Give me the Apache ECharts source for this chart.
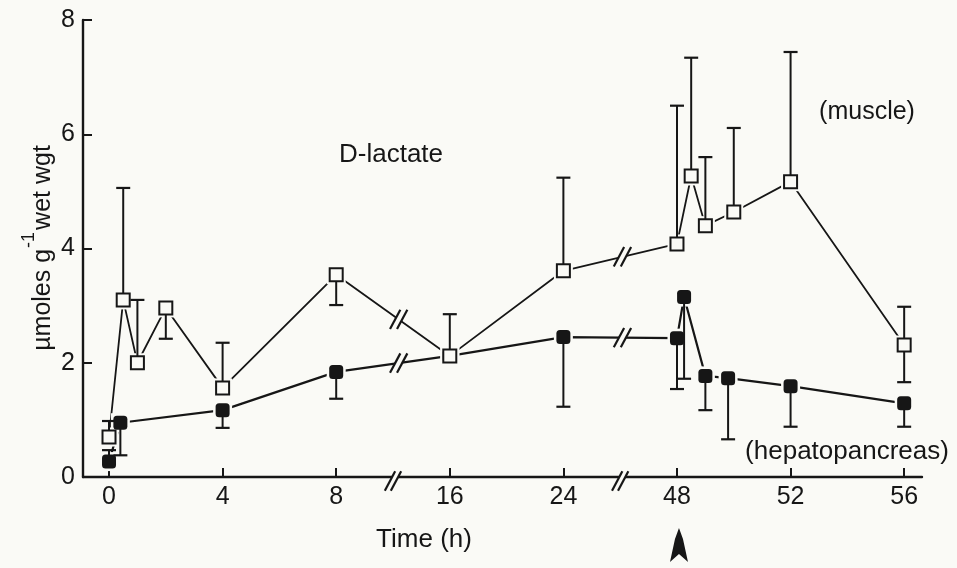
<!DOCTYPE html>
<html>
<head>
<meta charset="utf-8">
<title>D-lactate</title>
<script src="https://cdn.jsdelivr.net/npm/echarts@6/dist/echarts.min.js"></script>
<style>
  html, body { margin: 0; padding: 0; background: #fafaf6; }
  #chart { width: 957px; height: 568px; }
</style>
</head>
<body>
<div id="chart"></div>
<script>
// Tick labels of the broken time axis (hours)
const hourTicks = [0, 4, 8, 16, 24, 48, 52, 56];

// Muscle: mean and error-bar ends (µmoles g-1 wet wgt)
const muscleHours = [0, 0.5, 1, 2, 4, 8, 16, 24, 48, 48.5, 49, 50, 52, 56];
const muscleMean  = [0.70, 3.10, 2.00, 2.96, 1.56, 3.54, 2.12, 3.61, 4.08, 5.27, 4.40, 4.64, 5.17, 2.31];
const muscleUpper = [0.98, 5.06, 3.10, null, 2.35, null, 2.85, 5.24, 6.50, 7.34, 5.60, 6.11, 7.44, 2.98];
const muscleLower = [null, null, null, 2.42, null, 3.01, null, null, null, null, null, null, null, 1.66];

// Hepatopancreas: mean and error-bar ends
const hepHours = [0, 0.4, 4, 8, 16, 24, 48, 48.25, 49, 49.8, 52, 56];
const hepMean  = [0.27, 0.95, 1.17, 1.84, 2.12, 2.45, 2.43, 3.15, 1.77, 1.73, 1.59, 1.29];
const hepUpper = [0.47, null, null, null, null, null, null, null, null, null, null, null];
const hepLower = [null, 0.38, 0.86, 1.37, null, 1.23, 1.54, 1.72, 1.17, 0.66, 0.88, 0.88];

const BG = '#fafaf6';
const INK = '#161616';
const FONT = "'Liberation Sans', Arial, sans-serif";

// The time axis is drawn in three linear pieces: 0-8 h, 16-24 h, 48-56 h.
// Each piece maps to its own stretch of a continuous axis coordinate.
const pieces = [[0, 8, 0, 2], [16, 24, 3, 4], [48, 56, 5, 7]];
function toPos(h) {
  for (const [h0, h1, p0, p1] of pieces) {
    if (h >= h0 && h <= h1) return p0 + (h - h0) / (h1 - h0) * (p1 - p0);
  }
  return NaN;
}
const tickPos = hourTicks.map(toPos);
const labelOf = {};
tickPos.forEach((p, i) => { labelOf[p] = String(hourTicks[i]); });

const musclePts = muscleHours.map((h, i) => [toPos(h), muscleMean[i]]);
const hepPts = hepHours.map((h, i) => [toPos(h), hepMean[i]]);

function errorItems(hours, mean, upper, lower) {
  const out = [];
  hours.forEach((h, i) => {
    if (upper[i] != null) out.push([toPos(h), mean[i], upper[i]]);
    if (lower[i] != null) out.push([toPos(h), mean[i], lower[i]]);
  });
  return out;
}
const errData = errorItems(muscleHours, muscleMean, muscleUpper, muscleLower)
  .concat(errorItems(hepHours, hepMean, hepUpper, hepLower));

// Break marks sit between the axis pieces; on each curve the mark goes on
// the segment that spans the break.
const lineBreaks = [2.55, 4.52];
const axisBreaks = [2.5, 4.5];
function breakItems(pts) {
  const out = [];
  lineBreaks.forEach(b => {
    for (let i = 0; i < pts.length - 1; i++) {
      if (pts[i][0] < b && pts[i + 1][0] > b) {
        out.push([b, pts[i][0], pts[i][1], pts[i + 1][0], pts[i + 1][1]]);
      }
    }
  });
  return out;
}
const lineBreakData = breakItems(musclePts).concat(breakItems(hepPts));

// Two slanted strokes with the gap between them blanked out
function slashPair(cx, cy, half, gap) {
  const ang = 62 * Math.PI / 180;
  const dx = Math.cos(ang) * half, dy = Math.sin(ang) * half;
  const a = cx - gap / 2, b = cx + gap / 2;
  return [
    { type: 'polygon', shape: { points: [[a - dx, cy + dy], [a + dx, cy - dy], [b + dx, cy - dy], [b - dx, cy + dy]] },
      style: { fill: BG } },
    { type: 'line', shape: { x1: a - dx, y1: cy + dy, x2: a + dx, y2: cy - dy }, style: { stroke: INK, lineWidth: 2.2 } },
    { type: 'line', shape: { x1: b - dx, y1: cy + dy, x2: b + dx, y2: cy - dy }, style: { stroke: INK, lineWidth: 2.2 } }
  ];
}

const chart = echarts.init(document.getElementById('chart'));

chart.setOption({
  backgroundColor: BG,
  animation: false,
  grid: { left: 83, right: 35, top: 20, bottom: 91, outerBoundsMode: 'none' },
  xAxis: {
    type: 'value',
    min: -0.229,
    max: 7.157,
    splitLine: { show: false },
    axisLine: { onZero: false, lineStyle: { color: INK, width: 2.4 } },
    axisTick: { inside: true, length: 9, customValues: tickPos, lineStyle: { color: INK, width: 2 } },
    axisLabel: {
      customValues: tickPos,
      formatter: v => labelOf[v] || '',
      color: INK, fontSize: 25, fontFamily: FONT, margin: 8
    }
  },
  yAxis: {
    type: 'value',
    min: 0, max: 8, interval: 2,
    splitLine: { show: false },
    axisLine: { show: true, onZero: false, lineStyle: { color: INK, width: 2.4 } },
    axisTick: { show: true, inside: true, length: 9, lineStyle: { color: INK, width: 2 } },
    axisLabel: { color: INK, fontSize: 25, fontFamily: FONT, margin: 8 }
  },
  series: [
    {
      name: 'muscle', type: 'line', data: musclePts, showSymbol: false, z: 2,
      lineStyle: { color: INK, width: 1.8 }
    },
    {
      name: 'hepatopancreas', type: 'line', data: hepPts, showSymbol: false, z: 2,
      lineStyle: { color: INK, width: 2.2 }
    },
    {
      // clearance round each marker so the joining lines stop short of it
      type: 'scatter', data: musclePts.concat(hepPts), symbol: 'rect', symbolSize: 19,
      itemStyle: { color: BG, opacity: 1 }, z: 3, silent: true
    },
    {
      type: 'custom', data: lineBreakData, z: 4, silent: true,
      renderItem: (params, api) => {
        const b = api.value(0);
        const pA = api.coord([api.value(1), api.value(2)]);
        const pB = api.coord([api.value(3), api.value(4)]);
        const xb = api.coord([b, 0])[0];
        const t = (xb - pA[0]) / (pB[0] - pA[0]);
        const yb = pA[1] + t * (pB[1] - pA[1]);
        return { type: 'group', children: slashPair(xb, yb, 11, 7) };
      }
    },
    {
      type: 'custom', data: errData, z: 5, silent: true,
      renderItem: (params, api) => {
        const p1 = api.coord([api.value(0), api.value(1)]);
        const p2 = api.coord([api.value(0), api.value(2)]);
        return {
          type: 'group',
          children: [
            { type: 'line', shape: { x1: p1[0], y1: p1[1], x2: p2[0], y2: p2[1] }, style: { stroke: INK, lineWidth: 2 } },
            { type: 'line', shape: { x1: p2[0] - 7, y1: p2[1], x2: p2[0] + 7, y2: p2[1] }, style: { stroke: INK, lineWidth: 2.2 } }
          ]
        };
      }
    },
    {
      name: 'hepatopancreas', type: 'scatter', data: hepPts, symbol: 'roundRect', symbolSize: 14, z: 6,
      itemStyle: { color: INK, opacity: 1 }
    },
    {
      name: 'muscle', type: 'scatter', data: musclePts, symbol: 'rect', symbolSize: 13, z: 7,
      itemStyle: { color: BG, borderColor: INK, borderWidth: 2, opacity: 1 }
    },
    {
      // break marks across the time axis
      type: 'custom', data: axisBreaks.map(b => [b, 0]), z: 8, silent: true,
      renderItem: (params, api) => {
        const p = api.coord([api.value(0), 0]);
        return { type: 'group', children: slashPair(p[0], p[1] + 4, 11, 6) };
      }
    },
    {
      // arrow under 48 h
      type: 'custom', data: [[toPos(48), 0]], z: 8, silent: true,
      renderItem: (params, api) => {
        const p = api.coord([api.value(0), 0]);
        const x = p[0] + 2, y = p[1];
        return {
          type: 'polygon',
          shape: { points: [[x, y + 51], [x + 4, y + 62], [x + 9, y + 85], [x, y + 77], [x - 9, y + 85], [x - 4, y + 62]] },
          style: { fill: INK }
        };
      }
    }
  ],
  graphic: [
    {
      type: 'text', x: 38, y: 248, rotation: Math.PI / 2,
      style: {
        text: '{a|µmoles g}{s|-1}{a|wet wgt}',
        align: 'center', verticalAlign: 'middle',
        fill: INK, fontFamily: FONT,
        rich: {
          a: { fontSize: 25, fontFamily: FONT, fill: INK, lineHeight: 36, verticalAlign: 'bottom' },
          s: { fontSize: 18, fontFamily: FONT, fill: INK, lineHeight: 36, verticalAlign: 'top', padding: [0, 2, 0, 1] }
        }
      }
    },
    { type: 'text', x: 391, y: 155, style: { text: 'D-lactate', align: 'center', verticalAlign: 'middle', fontSize: 26, fontFamily: FONT, fill: INK } },
    { type: 'text', x: 867, y: 112, style: { text: '(muscle)', align: 'center', verticalAlign: 'middle', fontSize: 25, fontFamily: FONT, fill: INK } },
    { type: 'text', x: 847, y: 452, style: { text: '(hepatopancreas)', align: 'center', verticalAlign: 'middle', fontSize: 26, fontFamily: FONT, fill: INK } },
    { type: 'text', x: 424, y: 540, style: { text: 'Time (h)', align: 'center', verticalAlign: 'middle', fontSize: 26, fontFamily: FONT, fill: INK } }
  ]
});
</script>
</body>
</html>
